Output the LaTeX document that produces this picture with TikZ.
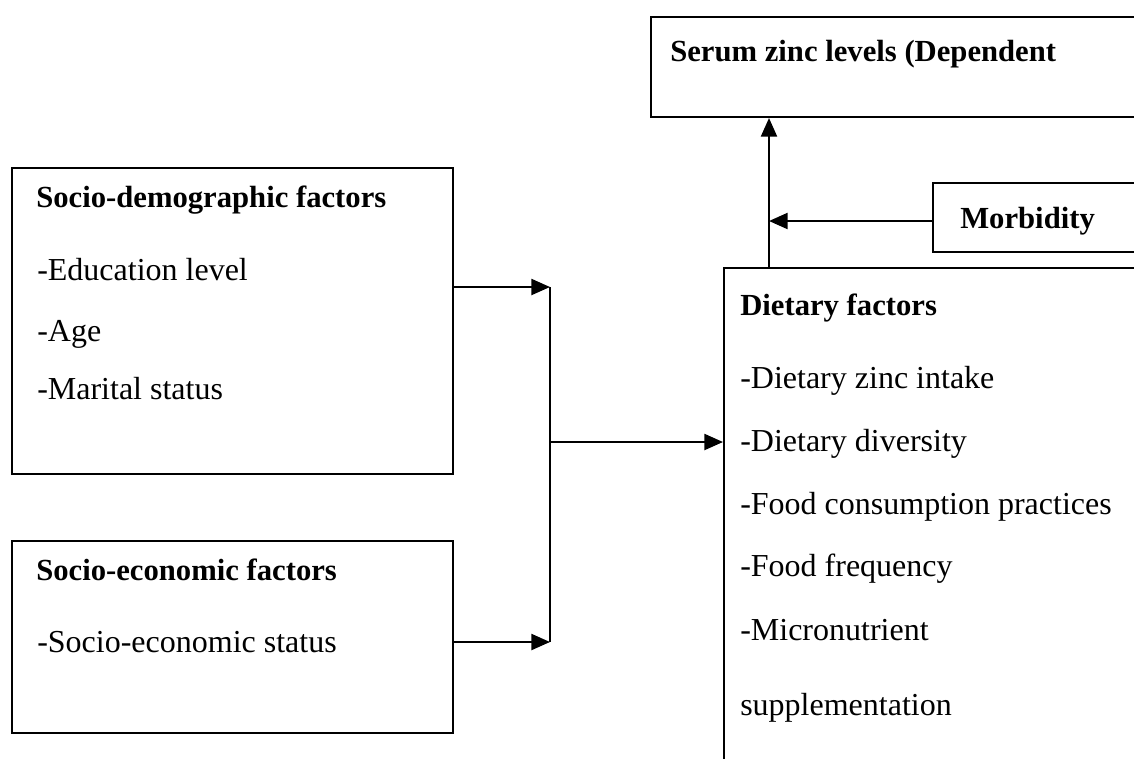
\documentclass[tikz,border=0pt]{standalone}
\usepackage{fontspec}
\setmainfont{Liberation Serif}
\usetikzlibrary{arrows.meta}

\begin{document}
\begin{tikzpicture}[x = 0.75pt, y = -0.75pt,
	box/.style = {draw, line width = 1.5pt, anchor = north west, inner sep = 0pt},
	txt/.style = {anchor = base west, inner sep = 0pt, font = \fontsize{24}{28}\selectfont},
	head/.style = {txt, font = \fontsize{23}{28}\selectfont\bfseries},
	>={Triangle[length = 14pt, width = 12pt]}]
	\clip (0,0) rectangle (1134,758);
	% boxes
	\node [box, minimum width = 382.5pt, minimum height = 75pt] (serum) at (650,16) {};
	\node [box, minimum width = 171pt, minimum height = 51.75pt] (morb) at (932,182) {};
	\node [box, minimum width = 327.75pt, minimum height = 400pt] (diet) at (723,267) {};
	\node [box, minimum width = 330.75pt, minimum height = 229.5pt] (sdem) at (11,167) {};
	\node [box, minimum width = 330.75pt, minimum height = 144pt] (secon) at (11,540) {};
	% texts
	\node [head] (serumtxt) at (670,61) {Serum zinc levels (Dependent};
	\node [head] (morbtxt) at (960,228) {Morbidity};
	\node [head] (diethead) at (740,315) {Dietary factors};
	\node [txt] (diet1) at (740,388) {-Dietary zinc intake};
	\node [txt] (diet2) at (740,451) {-Dietary diversity};
	\node [txt] (diet3) at (740,514) {-Food consumption practices};
	\node [txt] (diet4) at (740,576) {-Food frequency};
	\node [txt] (diet5) at (740,640) {-Micronutrient};
	\node [txt] (diet6) at (740,715) {supplementation};
	\node [head] (sdemhead) at (36,207) {Socio-demographic factors};
	\node [txt] (sdem1) at (37,280) {-Education level};
	\node [txt] (sdem2) at (37,341) {-Age};
	\node [txt] (sdem3) at (37,399) {-Marital status};
	\node [head] (seconhead) at (36,580) {Socio-economic factors};
	\node [txt] (secon1) at (37,652) {-Socio-economic status};
	% connectors
	\coordinate (stem) at (769,267);
	\coordinate (bustop) at (550,287);
	\coordinate (busmid) at (550,442);
	\coordinate (busbot) at (550,642);
	\draw [->, line width = 1.7pt] (stem) -- (stem |- serum.south);
	\draw [->, line width = 1.7pt] (morb.west |- 0,221) -- (stem |- 0,221);
	\draw [->, line width = 1.7pt] (sdem.east |- bustop) -- (bustop);
	\draw [->, line width = 1.7pt] (secon.east |- busbot) -- (busbot);
	\draw [line width = 1.5pt] (bustop) -- (busbot);
	\draw [->, line width = 1.7pt] (busmid) -- (busmid -| diet.west);
\end{tikzpicture}
\end{document}
